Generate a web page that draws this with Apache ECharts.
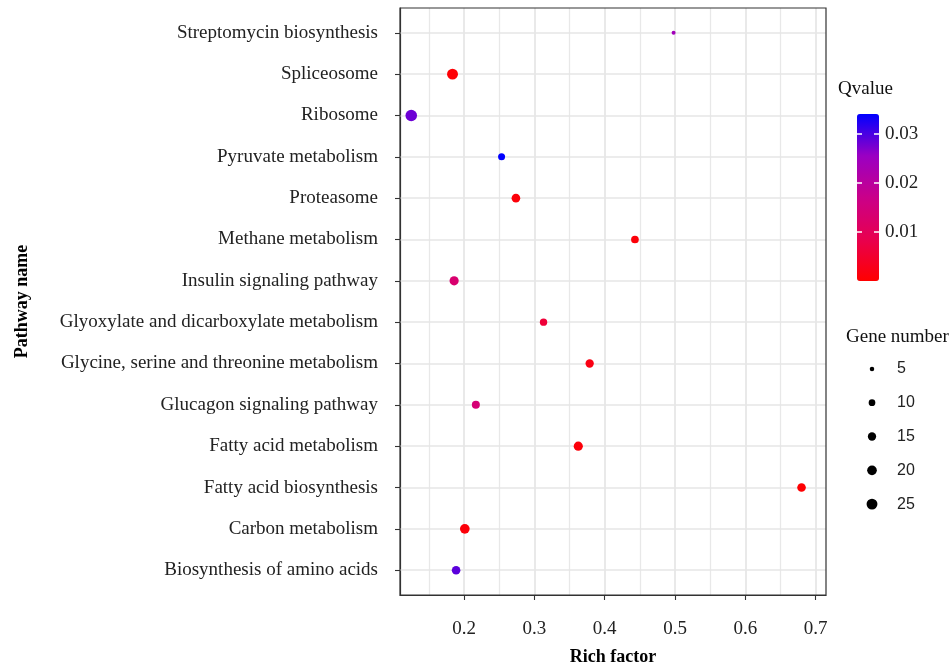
<!DOCTYPE html>
<html><head><meta charset="utf-8">
<script src="https://cdn.jsdelivr.net/npm/echarts/dist/echarts.min.js"></script>
<style>html,body{margin:0;padding:0;background:#fff}#c{width:951px;height:665px}</style>
</head><body><div id="c"></div>
<script>
const pathways = ['Biosynthesis of amino acids','Carbon metabolism','Fatty acid biosynthesis','Fatty acid metabolism','Glucagon signaling pathway','Glycine, serine and threonine metabolism','Glyoxylate and dicarboxylate metabolism','Insulin signaling pathway','Methane metabolism','Proteasome','Pyruvate metabolism','Ribosome','Spliceosome','Streptomycin biosynthesis'];
const richFactor = [0.1886, 0.201, 0.680, 0.3624, 0.2167, 0.3786, 0.313, 0.1858, 0.443, 0.2737, 0.2533, 0.1248, 0.1835, 0.498];
const geneNumber = [16, 20, 16, 18, 14, 15, 12, 18, 13, 16, 11, 28, 25, 4];
const qValue = [0.029, 0.001, 0.0002, 0.001, 0.014, 0.002, 0.006, 0.013, 0.001, 0.001, 0.034, 0.028, 0.0005, 0.024];
const xTicks = [0.2, 0.3, 0.4, 0.5, 0.6, 0.7];
const xMinor = [0.15, 0.25, 0.35, 0.45, 0.55, 0.65];
const qTicks = [0.01, 0.02, 0.03];
const sizeBreaks = [5, 10, 15, 20, 25];

const SERIF = 'Liberation Serif, Times New Roman, serif';
const SANS = 'Liberation Sans, Arial, sans-serif';
const sz = n => 2.3 * Math.sqrt(n) - 0.6;
const yIdx = pathways.map((_, i) => i);

const gridLines = [].concat(
  xTicks.map(v => ({ xAxis: v, lineStyle: { color: '#E6E6E6', width: 1.7, type: 'solid' } })),
  xMinor.map(v => ({ xAxis: v, lineStyle: { color: '#E8E8E8', width: 1.3, type: 'solid' } })),
  yIdx.map(v => ({ yAxis: v, lineStyle: { color: '#E6E6E6', width: 1.7, type: 'solid' } }))
);

const chart = echarts.init(document.getElementById('c'), null, { renderer: 'canvas' });
chart.setOption({
  animation: false,
  backgroundColor: '#fff',
  title: [
    { text: 'Qvalue', left: 838, top: 80, padding: 0, textStyle: { fontFamily: SERIF, fontSize: 19, fontWeight: 'normal', color: '#111' } },
    { text: 'Gene number', left: 846, top: 328, padding: 0, textStyle: { fontFamily: SERIF, fontSize: 19, fontWeight: 'normal', color: '#111' } }
  ],
  grid: [
    { left: 400, top: 8, width: 426, height: 587, show: true, borderColor: '#333', borderWidth: 1.2, backgroundColor: 'transparent', z: 10, containLabel: false, outerBoundsMode: 'none' },
    { left: 857, top: 114, width: 22, height: 167, containLabel: false, outerBoundsMode: 'none' },
    { left: 862, top: 352, width: 20, height: 169, containLabel: false, outerBoundsMode: 'none' }
  ],
  xAxis: [
    {
      gridIndex: 0, type: 'value', min: 0.1088, max: 0.7148, position: 'bottom',
      axisLine: { show: true, onZero: false, lineStyle: { color: '#333', width: 1.2 } },
      axisTick: { show: true, customValues: xTicks, length: 5, lineStyle: { color: '#333', width: 1.1 } },
      axisLabel: { customValues: xTicks, formatter: v => v.toFixed(1), margin: 25, fontFamily: SERIF, fontSize: 19, color: '#222' },
      splitLine: { show: false },
      name: 'Rich factor', nameLocation: 'middle', nameGap: 53,
      nameTextStyle: { fontFamily: SERIF, fontSize: 18, fontWeight: 'bold', color: '#000' }
    },
    { gridIndex: 1, type: 'value', min: 0, max: 1, show: false },
    { gridIndex: 2, type: 'value', min: 0, max: 1, show: false }
  ],
  yAxis: [
    {
      gridIndex: 0, type: 'value', min: -0.6, max: 13.6, position: 'left',
      axisLine: { show: true, onZero: false, lineStyle: { color: '#333', width: 1.2 } },
      axisTick: { show: true, customValues: yIdx, length: 5, lineStyle: { color: '#333', width: 1.1 } },
      axisLabel: { customValues: yIdx, formatter: v => pathways[Math.round(v)], margin: 22, fontFamily: SERIF, fontSize: 19, color: '#222' },
      splitLine: { show: false },
      name: 'Pathway name', nameLocation: 'middle', nameGap: 369, nameRotate: 90,
      nameTextStyle: { fontFamily: SERIF, fontSize: 18, fontWeight: 'bold', color: '#000' }
    },
    {
      gridIndex: 1, type: 'value', min: 0, max: 0.034, position: 'right', z: 10,
      axisLine: { show: false, onZero: false },
      axisTick: { show: true, inside: true, customValues: qTicks, length: 5, lineStyle: { color: '#fff', width: 1.5 } },
      axisLabel: { customValues: qTicks, formatter: v => v.toFixed(2), margin: 6, fontFamily: SERIF, fontSize: 19, color: '#222' },
      splitLine: { show: false }
    },
    {
      gridIndex: 1, type: 'value', min: 0, max: 0.034, position: 'left', z: 10,
      axisLine: { show: false, onZero: false },
      axisTick: { show: true, inside: true, customValues: qTicks, length: 5, lineStyle: { color: '#fff', width: 1.5 } },
      axisLabel: { show: false },
      splitLine: { show: false }
    },
    {
      gridIndex: 2, type: 'category', data: sizeBreaks.map(String), inverse: true, position: 'right',
      axisLine: { show: false }, axisTick: { show: false },
      axisLabel: { margin: 15, fontFamily: SANS, fontSize: 16, color: '#222' },
      splitLine: { show: false }
    }
  ],
  visualMap: {
    type: 'continuous', min: 0, max: 0.034, dimension: 2, seriesIndex: 0,
    left: 857, top: 114, itemWidth: 22, itemHeight: 167, padding: 0,
    calculable: false, orient: 'vertical', hoverLink: false,
    inRange: { color: ['#FF0000', '#E8004F', '#CA0089', '#9A00C3', '#0000FF'] }
  },
  series: [
    {
      type: 'scatter', xAxisIndex: 0, yAxisIndex: 0, z: 5,
      data: richFactor.map((x, i) => [x, i, qValue[i], geneNumber[i]]),
      symbolSize: d => sz(d[3]),
      itemStyle: { opacity: 1 }
    },
    {
      type: 'scatter', xAxisIndex: 0, yAxisIndex: 0, z: 1, data: [],
      markLine: { silent: true, symbol: ['none', 'none'], label: { show: false }, animation: false, data: gridLines }
    },
    {
      type: 'scatter', xAxisIndex: 2, yAxisIndex: 3,
      data: sizeBreaks.map((n, i) => [0.5, i, n]),
      symbolSize: d => sz(d[2]),
      itemStyle: { color: '#000', opacity: 1 }
    }
  ]
});
</script></body></html>
